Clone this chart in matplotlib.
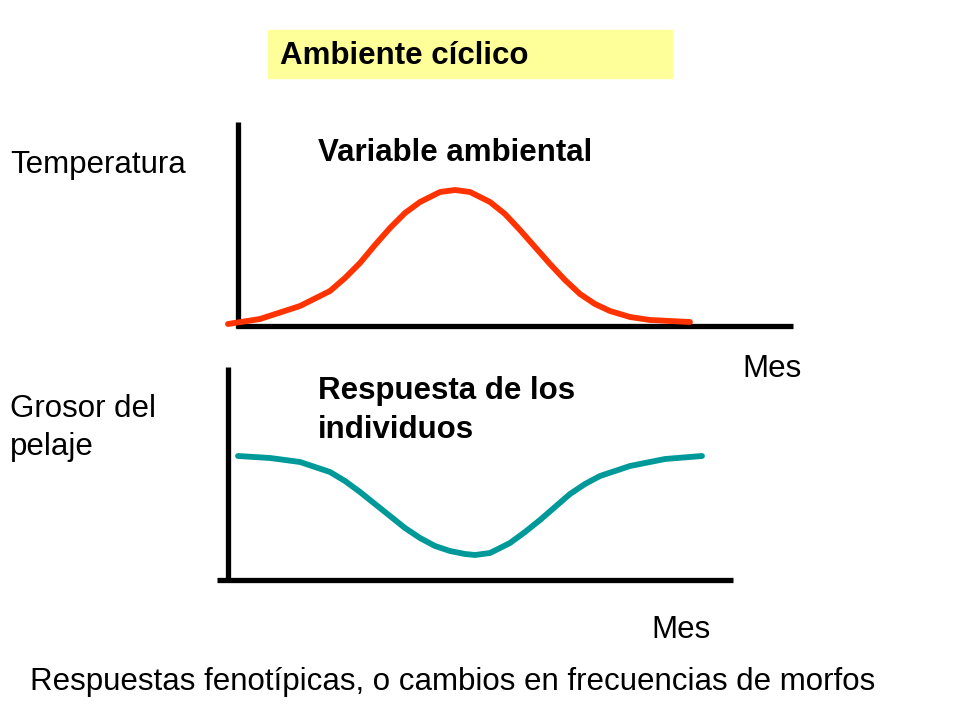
import matplotlib.pyplot as plt
from matplotlib.patches import Rectangle

# curve samples (pixel coords, y downward)
temp_x = [228, 260, 300, 330, 345, 360, 375, 390, 405, 420, 440, 455, 470, 490, 505, 520, 535, 550, 565, 580, 595, 610, 630, 650, 690]
temp_y = [324, 319, 306, 291, 278, 263, 245, 228, 213, 202, 192, 190, 192, 202, 214, 230, 247, 264, 280, 294, 304, 311, 317, 320, 322]
fur_x = [238, 270, 300, 330, 345, 360, 375, 390, 405, 420, 435, 450, 465, 475, 490, 510, 525, 540, 555, 570, 585, 600, 630, 665, 702]
fur_y = [456, 458, 462, 472, 481, 492, 504, 516, 528, 538, 546, 551, 554, 555, 553, 543, 532, 520, 507, 494, 484, 476, 466, 459, 456]

FONT = "Liberation Sans"

fig = plt.figure(figsize=(9.6, 7.2), dpi=100)
ax = fig.add_axes([0, 0, 1, 1])
ax.set_xlim(0, 960)
ax.set_ylim(720, 0)
ax.axis("off")

ax.add_patch(Rectangle((268, 30), 404, 48, color="#ffff99", zorder=0))
ax.text(280, 56, "Ambiente cíclico", fontsize=22.5, fontweight="bold", family=FONT, va="center")

# upper panel axes
ax.plot([238, 238], [122, 328], color="black", lw=3.8, solid_capstyle="butt")
ax.plot([236, 793], [326, 326], color="black", lw=3.8, solid_capstyle="butt")
ax.plot(temp_x, temp_y, color="#ff3300", lw=4.2, solid_capstyle="round", solid_joinstyle="round")

# lower panel axes
ax.plot([228, 228], [367, 582], color="black", lw=3.8, solid_capstyle="butt")
ax.plot([217, 733], [580, 580], color="black", lw=3.8, solid_capstyle="butt")
ax.plot(fur_x, fur_y, color="#009999", lw=4.2, solid_capstyle="round", solid_joinstyle="round")

txt = dict(fontsize=22.5, family=FONT, va="center")
ax.text(10, 165, "Temperatura", **txt)
ax.text(318, 153, "Variable ambiental", fontweight="bold", **txt)
ax.text(742, 369, "Mes", **txt)
ax.text(10, 409, "Grosor del", **txt)
ax.text(10, 447, "pelaje", **txt)
ax.text(318, 391, "Respuesta de los", fontweight="bold", **txt)
ax.text(318, 430, "individuos", fontweight="bold", **txt)
ax.text(651, 630, "Mes", **txt)
ax.text(30, 682, "Respuestas fenotípicas, o cambios en frecuencias de morfos", **txt)

fig.savefig("out.png", dpi=100)
